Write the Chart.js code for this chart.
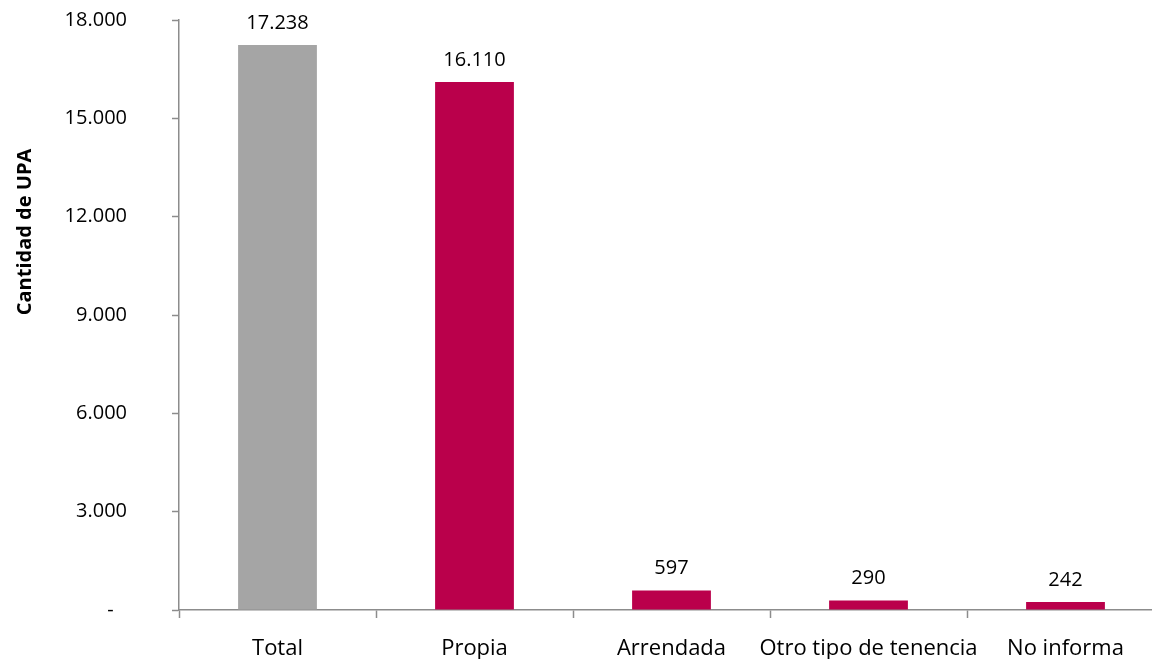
<!DOCTYPE html>
<html>
<head>
<meta charset="utf-8">
<script src="https://cdn.jsdelivr.net/npm/chart.js@4"></script>
<style>
  body { margin: 0; overflow: hidden; background: #fff; }
  #wrap { width: 1166px; height: 659px; }
</style>
</head>
<body>
<div id="wrap"><canvas id="upaChart"></canvas></div>
<script>
// Chart data
const categories = ['Total', 'Propia', 'Arrendada', 'Otro tipo de tenencia', 'No informa'];
const values = [17238, 16110, 597, 290, 242];
const barColors = ['#A5A5A5', '#BA004B', '#BA004B', '#BA004B', '#BA004B'];
const yTicks = [0, 3000, 6000, 9000, 12000, 15000, 18000];

const FONT = "'Open Sans', 'DejaVu Sans', sans-serif";

// Format numbers with dot as thousands separator
function formatNumber(n) {
  return String(n).replace(/\B(?=(\d{3})+(?!\d))/g, '.');
}

// Plugin to draw the value labels above bars
const valueLabels = {
  id: 'valueLabels',
  afterDatasetsDraw(chart) {
    const ctx = chart.ctx;
    const meta = chart.getDatasetMeta(0);
    ctx.save();
    ctx.font = '20px ' + FONT;
    ctx.fillStyle = '#000';
    ctx.textAlign = 'center';
    ctx.textBaseline = 'alphabetic';
    meta.data.forEach((bar, i) => {
      ctx.fillText(formatNumber(values[i]), bar.x, bar.y - 16);
    });
    ctx.restore();
  }
};

// Plugin to draw the rotated y axis title
const yTitle = {
  id: 'yTitle',
  afterDraw(chart) {
    const ctx = chart.ctx;
    ctx.save();
    ctx.translate(25, 232);
    ctx.rotate(-Math.PI / 2);
    ctx.font = 'bold 20px ' + FONT;
    ctx.fillStyle = '#000';
    ctx.textAlign = 'center';
    ctx.textBaseline = 'middle';
    ctx.fillText('Cantidad de UPA', 0, 0);
    ctx.restore();
  }
};

const ctx = document.getElementById('upaChart').getContext('2d');
new Chart(ctx, {
  type: 'bar',
  data: {
    labels: categories,
    datasets: [{
      data: values,
      backgroundColor: barColors,
      categoryPercentage: 0.8,
      barPercentage: 0.5
    }]
  },
  options: {
    responsive: true,
    maintainAspectRatio: false,
    animation: false,
    layout: { padding: { top: 20, right: 2, left: 0, bottom: 0 } },
    scales: {
      x: {
        offset: true,
        grid: {
          offset: true,
          drawOnChartArea: false,
          tickLength: 8,
          tickColor: '#8C8C8C',
          tickWidth: 1.5
        },
        border: { color: '#8C8C8C', width: 1.5 },
        ticks: {
          color: '#000',
          font: { family: FONT, size: 22 },
          padding: 18,
          maxRotation: 0,
          autoSkip: false
        },
        afterFit(axis) { axis.height = 49; }
      },
      y: {
        min: 0,
        max: 18000,
        afterBuildTicks(axis) {
          axis.ticks = yTicks.map(v => ({ value: v }));
        },
        grid: {
          drawOnChartArea: false,
          tickLength: 7,
          tickColor: '#8C8C8C',
          tickWidth: 1.5
        },
        border: { color: '#8C8C8C', width: 1.5 },
        ticks: {
          color: '#000',
          font: { family: FONT, size: 20 },
          padding: 45,
          callback: v => v === 0 ? '-\u2002\u2009' : formatNumber(v)
        },
        afterFit(axis) {
          axis.width = 179;
          axis.paddingTop = 0;
          axis.paddingBottom = 0;
        }
      }
    },
    plugins: {
      legend: { display: false },
      tooltip: { enabled: false }
    }
  },
  plugins: [valueLabels, yTitle]
});
</script>
</body>
</html>
